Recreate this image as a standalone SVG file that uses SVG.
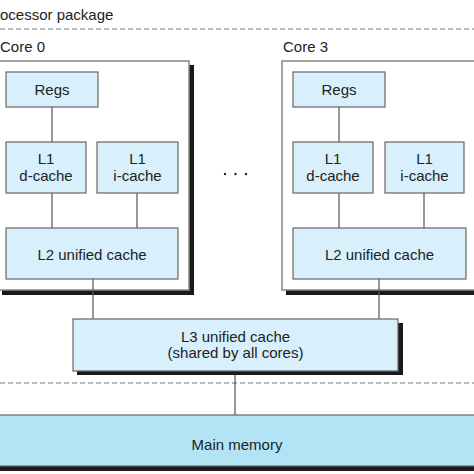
<svg xmlns="http://www.w3.org/2000/svg" width="474" height="474" viewBox="0 0 474 474">
<style>
text{font-family:"Liberation Sans",Arial,Helvetica,sans-serif;font-size:15px;fill:#222}
.c{text-anchor:middle}
.box{fill:#d7f0fb;stroke:#666;stroke-width:1.2}
.core{fill:#fff;stroke:#888;stroke-width:1.5}
.sh{fill:#1a1a1a}
.ln{stroke:#555;stroke-width:1.2;fill:none}
.dash{stroke:#777;stroke-width:1.2;stroke-dasharray:5 3;fill:none}
</style>
<rect width="474" height="474" fill="#fff"/>
<g id="package">
<text x="0" y="20">ocessor package</text>
<line class="dash" x1="0" y1="29" x2="474" y2="29"/>
<line class="dash" x1="0" y1="383" x2="474" y2="383"/>
</g>
<g id="core0">
<text x="0" y="52">Core 0</text>
<rect class="sh" x="2" y="65" width="192" height="230"/>
<rect class="core" x="-3" y="61" width="192" height="229"/>
</g>
<g id="core3">
<text x="283" y="52">Core 3</text>
<rect class="sh" x="286" y="65" width="200" height="230"/>
<rect class="core" x="282" y="61" width="200" height="229"/>
</g>
<g id="connectors">
<line class="ln" x1="52" y1="107" x2="52" y2="142"/>
<line class="ln" x1="52" y1="193" x2="52" y2="228"/>
<line class="ln" x1="137" y1="193" x2="137" y2="228"/>
<line class="ln" x1="93" y1="279" x2="93" y2="319"/>
<line class="ln" x1="339" y1="107" x2="339" y2="142"/>
<line class="ln" x1="339" y1="193" x2="339" y2="228"/>
<line class="ln" x1="424" y1="193" x2="424" y2="228"/>
<line class="ln" x1="379" y1="279" x2="379" y2="319"/>
<line class="ln" x1="235" y1="371" x2="235" y2="415"/>
</g>
<g id="regs0"><rect class="box" x="6" y="72" width="92" height="35"/><text class="c" x="52" y="95">Regs</text></g>
<g id="l1d0"><rect class="box" x="6" y="142" width="80" height="51"/><text class="c" x="46" y="164">L1</text><text class="c" x="46" y="181">d-cache</text></g>
<g id="l1i0"><rect class="box" x="97" y="142" width="81" height="51"/><text class="c" x="137.5" y="164">L1</text><text class="c" x="137.5" y="181">i-cache</text></g>
<g id="l20"><rect class="box" x="6" y="228" width="172" height="51"/><text class="c" x="92" y="260">L2 unified cache</text></g>
<g id="regs3"><rect class="box" x="293" y="72" width="92" height="35"/><text class="c" x="339" y="95">Regs</text></g>
<g id="l1d3"><rect class="box" x="293" y="142" width="80" height="51"/><text class="c" x="333" y="164">L1</text><text class="c" x="333" y="181">d-cache</text></g>
<g id="l1i3"><rect class="box" x="385" y="142" width="79" height="51"/><text class="c" x="424.5" y="164">L1</text><text class="c" x="424.5" y="181">i-cache</text></g>
<g id="l23"><rect class="box" x="293" y="228" width="173" height="51"/><text class="c" x="379.5" y="260">L2 unified cache</text></g>
<g id="dots"><circle cx="225" cy="174" r="1.2" fill="#222"/><circle cx="235.5" cy="174" r="1.2" fill="#222"/><circle cx="246" cy="174" r="1.2" fill="#222"/></g>
<g id="l3">
<rect class="sh" x="77" y="323" width="326" height="52"/>
<rect class="box" x="73" y="319" width="325" height="52"/>
<text class="c" x="235.5" y="342">L3 unified cache</text>
<text class="c" x="235.5" y="358">(shared by all cores)</text>
</g>
<g id="mainmem">
<rect class="sh" x="-3" y="419" width="480" height="52"/>
<rect x="-3" y="415" width="480" height="51" fill="#b2e4f6" stroke="#666" stroke-width="1.2"/>
<text class="c" x="237" y="450">Main memory</text>
</g>
</svg>
